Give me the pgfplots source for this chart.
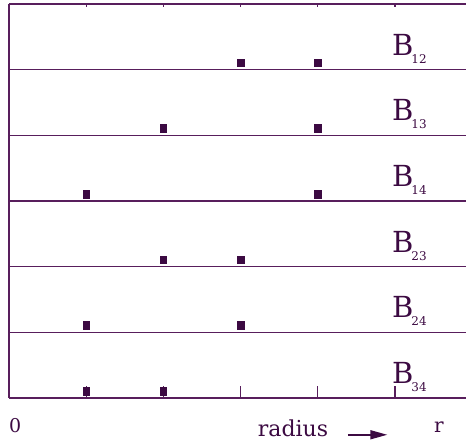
\documentclass[border=0pt]{standalone}
\usepackage{pgfplots}
\pgfplotsset{compat=1.18}
\usepackage{fontspec}
\setmainfont{DejaVu Serif}
\usetikzlibrary{arrows.meta}
\definecolor{ink}{RGB}{60,10,66}
\definecolor{rule}{RGB}{88,30,92}

% Positions (in radius units) of the occupied shells for each pair B_ij.
% Each panel sits on its own baseline: B34 at 0, B24 at 1, ..., B12 at 5.
\newcommand{\pairlabel}[3]{%
  \node[anchor=base west, inner sep=0pt, text=ink,
        font=\fontsize{29}{30}\selectfont] at (axis cs:#1,#2)
        {B\kern-2pt\raisebox{-8pt}{\fontsize{12}{13}\selectfont #3}};}

\begin{document}
\begin{tikzpicture}
\path[use as bounding box] (-9pt,-46pt) rectangle (457pt,398pt);
\begin{axis}[
  at={(0pt,0pt)}, anchor=south west,
  scale only axis, width=457pt, height=394pt,
  xmin=0, xmax=5.92, ymin=0, ymax=6,
  hide axis, clip=false,
]
% frame: left edge and panel baselines
\addplot[rule, line width=1.6pt] coordinates {(0,0) (0,6)};
\foreach \k in {0,...,6}{
  \addplot[rule, line width=1.6pt] coordinates {(0,\k) (5.92,\k)};
}
% radius ticks along the bottom and top
\foreach \t in {1,...,5}{
  \addplot[rule, line width=1.1pt] coordinates {(\t,0) (\t,0.18)};
  \addplot[rule, line width=1.1pt] coordinates {(\t,6) (\t,5.95)};
}
% occupied shells
\pgfplotsset{shell/.style={only marks, mark=square*, mark size=3.2pt,
  mark options={ink, fill=ink, yscale=1.2}}}
\addplot[shell] coordinates {(3,5.107) (4,5.107)};   % B12
\addplot[shell] coordinates {(2,4.107) (4,4.107)};   % B13
\addplot[shell] coordinates {(1,3.107) (4,3.107)};   % B14
\addplot[shell] coordinates {(2,2.107) (3,2.107)};   % B23
\addplot[shell] coordinates {(1,1.107) (3,1.107)};   % B24
\addplot[shell] coordinates {(1,0.107) (2,0.107)};   % B34

\pairlabel{4.96}{5.22}{12}
\pairlabel{4.96}{4.22}{13}
\pairlabel{4.96}{3.22}{14}
\pairlabel{4.96}{2.22}{23}
\pairlabel{4.96}{1.22}{24}
\pairlabel{4.96}{0.22}{34}

% axis annotation
\node[anchor=base, inner sep=0pt, text=ink, font=\fontsize{19}{20}\selectfont]
  at (axis cs:0.08,-0.52) {0};
\node[anchor=base, inner sep=0pt, text=ink, font=\fontsize{22}{24}\selectfont]
  at (axis cs:3.68,-0.58) {radius};
\draw[ink, line width=1.6pt, -{Triangle[length=17pt,width=9pt]}]
  (axis cs:4.39,-0.56) -- (axis cs:4.90,-0.56);
\node[anchor=base, inner sep=0pt, text=ink, font=\fontsize{20}{22}\selectfont]
  at (axis cs:5.57,-0.53) {r};
\end{axis}
\end{tikzpicture}
\end{document}
